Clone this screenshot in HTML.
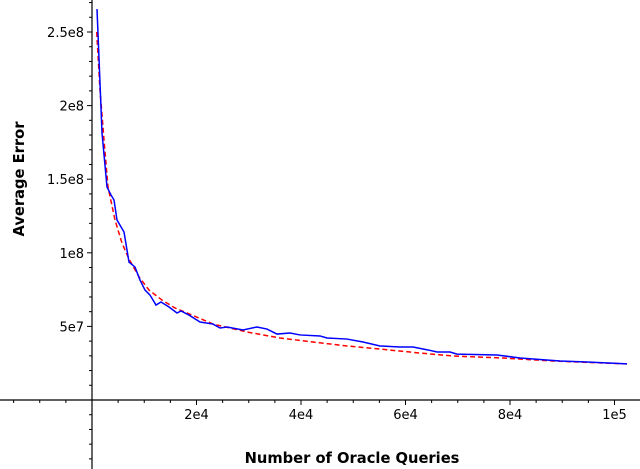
<!DOCTYPE html>
<html><head><meta charset="utf-8"><style>
body{margin:0;background:#fff}
svg{display:block;font-family:"DejaVu Sans","Liberation Sans",sans-serif}
</style></head><body>
<svg id="chart" width="640" height="469" viewBox="0 0 640 469" xmlns="http://www.w3.org/2000/svg">
<g id="axes"></g>
<g id="series"></g>
<text transform="translate(24,179) rotate(-90)" text-anchor="middle" font-weight="bold" font-size="14.7">Average Error</text>
<text x="352" y="463" text-anchor="middle" font-weight="bold" font-size="14.7">Number of Oracle Queries</text>
</svg>
<script>
const xTickValues=[20000,40000,60000,80000,100000];
const xTickLabels=["2e4","4e4","6e4","8e4","1e5"];
const yTickValues=[50000000,100000000,150000000,200000000,250000000];
const yTickLabels=["5e7","1e8","1.5e8","2e8","2.5e8"];
const blueX=[957,1531,1914,2871,3637,4211,4785,6125,7082,8230,9187,10144,11101,12250,13207,14738,16269,17035,18566,20671,23159,24499,25839,28901,31581,33495,35409,37897,39811,43639,44979,48807,51870,55123,58951,61440,64311,66033,68522,69861,77517,81919,89575,94743,102399];
const blueY=[2.656e8,2.153e8,1.814e8,1.447e8,1.393e8,1.359e8,1.223e8,1.141e8,9.37e7,9.03e7,8.15e7,7.47e7,7.13e7,6.45e7,6.66e7,6.32e7,5.91e7,6.05e7,5.77e7,5.30e7,5.16e7,4.89e7,4.96e7,4.76e7,4.96e7,4.82e7,4.48e7,4.55e7,4.42e7,4.35e7,4.21e7,4.14e7,3.94e7,3.67e7,3.60e7,3.60e7,3.40e7,3.26e7,3.26e7,3.12e7,3.06e7,2.85e7,2.65e7,2.58e7,2.45e7];
const redX=[900,1531,2297,3062,4402,5742,7082,8996,10910,13398,15886,19140,23159,29667,35983,42299,48807,55123,62779,69095,78666,88236,102399];
const redY=[2.50e8,2.106e8,1.766e8,1.447e8,1.223e8,1.066e8,9.58e7,8.36e7,7.47e7,6.79e7,6.25e7,5.77e7,5.16e7,4.62e7,4.21e7,3.94e7,3.67e7,3.46e7,3.19e7,2.99e7,2.85e7,2.65e7,2.45e7];

const X0=92,Y0=400,XS=104.5/20000,YS=73.6/5e7;
const sx=v=>X0+v*XS, sy=v=>Y0-v*YS;
const NS="http://www.w3.org/2000/svg";
function mk(tag,attrs,parent){const e=document.createElementNS(NS,tag);for(const k in attrs)e.setAttribute(k,attrs[k]);parent.appendChild(e);return e;}
const axes=document.getElementById('axes'), series=document.getElementById('series');
let l=mk('line',{x1:0,y1:Y0,x2:640,y2:Y0,stroke:'#000','stroke-width':1.2},axes);


l=mk('line',{x1:X0,y1:0,x2:X0,y2:469,stroke:'#000','stroke-width':1.2},axes);


for(let v=-15000;v<=120000;v+=5000){const x=sx(v);if(x<0||x>640||v===0)continue;const major=v%20000===0&&v>0;
 const t=mk('line',{x1:x,y1:Y0,x2:x,y2:Y0+(major?5:3),stroke:'#000','stroke-width':1},axes);
 
 }
for(let v=-60000000;v<=280000000;v+=10000000){const y=sy(v);if(y<0||y>469||v===0)continue;const major=v%50000000===0&&v>0;
 const t=mk('line',{x1:X0,y1:y,x2:X0-(major?5:3),y2:y,stroke:'#000','stroke-width':1},axes);
 
 }
xTickValues.forEach((v,i)=>{const t=mk('text',{x:sx(v),y:Y0+19,'text-anchor':'middle','font-size':13},axes);t.textContent=xTickLabels[i];
 
 });
yTickValues.forEach((v,i)=>{const t=mk('text',{x:X0-8,y:sy(v)+5,'text-anchor':'end','font-size':13},axes);t.textContent=yTickLabels[i];
 
 });
const rp=mk('polyline',{points:redX.map((x,i)=>sx(x)+','+sy(redY[i])).join(' '),fill:'none',stroke:'#f00','stroke-width':1.5,'stroke-dasharray':'5,3'},series);


const bp=mk('polyline',{points:blueX.map((x,i)=>sx(x)+','+sy(blueY[i])).join(' '),fill:'none',stroke:'#00f','stroke-width':1.5},series);


</script>
</body></html>
